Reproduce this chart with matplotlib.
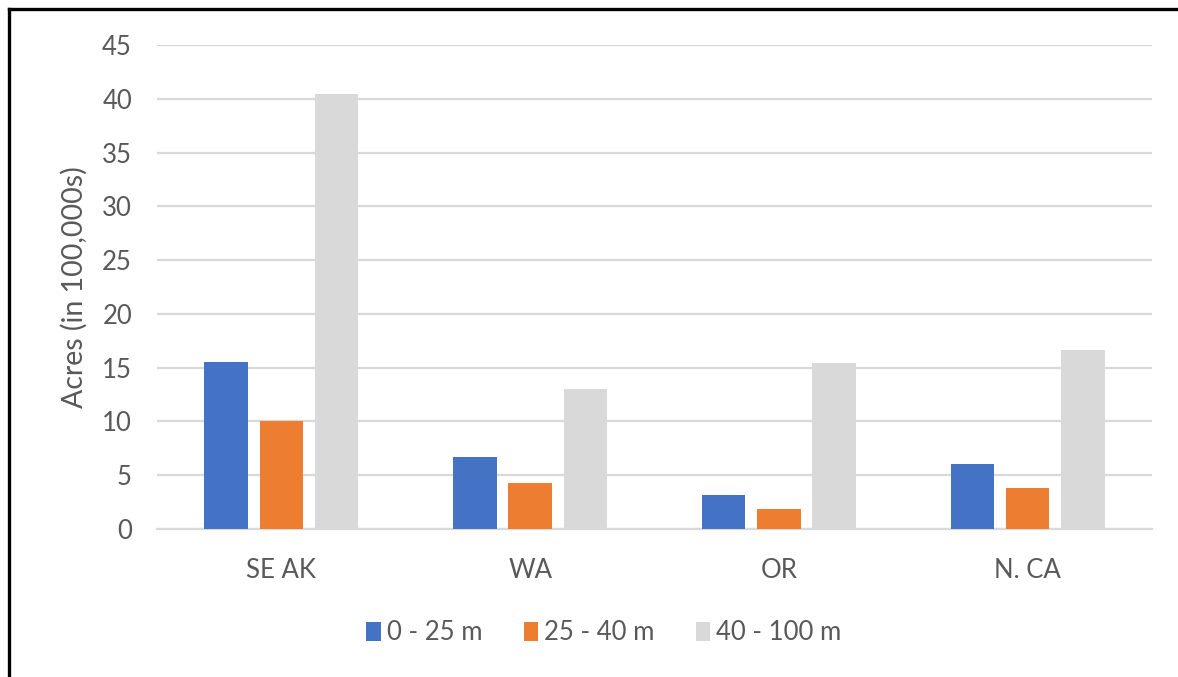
import matplotlib.pyplot as plt
import numpy as np
from matplotlib.lines import Line2D

plt.rcParams['font.family'] = ['Lato', 'DejaVu Sans']

regions = ["SE AK", "WA", "OR", "N. CA"]
depth_0_25 = [15.5, 6.7, 3.2, 6.0]
depth_25_40 = [10.0, 4.3, 1.9, 3.8]
depth_40_100 = [40.4, 13.0, 15.4, 16.6]
series_names = ["0 - 25 m", "25 - 40 m", "40 - 100 m"]
colors = ["#4472C4", "#ED7D31", "#D9D9D9"]
yticks = [0, 5, 10, 15, 20, 25, 30, 35, 40, 45]

text_col = "#595959"
fs = 18.5

fig = plt.figure(figsize=(11.78, 6.77), dpi=100)
ax = fig.add_axes([157/1178, 1 - 529/677, (1152 - 157)/1178, (529 - 45)/677])

x = np.arange(len(regions))
w = 0.175
step = 0.222
for k, vals in enumerate([depth_0_25, depth_25_40, depth_40_100]):
    ax.bar(x + (k - 1)*step, vals, width=w, color=colors[k], label=series_names[k],
           zorder=3, linewidth=0)

ax.set_xlim(-0.5, len(regions) - 0.5)
ax.set_ylim(0, 45)
ax.set_yticks(yticks)
ax.set_xticks(x)
ax.set_xticklabels(regions)
ax.yaxis.grid(True, color="#D9D9D9", linewidth=1.6, zorder=0)
ax.set_axisbelow(True)
for s in ["top", "right", "left"]:
    ax.spines[s].set_visible(False)
ax.spines["bottom"].set_color("#D9D9D9")
ax.spines["bottom"].set_linewidth(1.6)
ax.tick_params(axis="both", length=0, labelsize=fs, colors=text_col)
ax.tick_params(axis="y", pad=18)
ax.tick_params(axis="x", pad=21)
ax.set_ylabel("Acres (in 100,000s)", fontsize=20.5, color=text_col, labelpad=10)

fig.legend(loc="center", bbox_to_anchor=(604/1178, 1 - 633/677), ncol=3, frameon=False,
           fontsize=fs, labelcolor=text_col, handlelength=0.55, handleheight=0.8,
           handletextpad=0.25, columnspacing=1.6)

# frame lines along the top and left edge
fig.add_artist(Line2D([8.5/1178, 1], [1 - 8.5/677, 1 - 8.5/677], color="black", linewidth=2.4))
fig.add_artist(Line2D([8.5/1178, 8.5/1178], [0, 1 - 8.5/677], color="black", linewidth=2.4))

fig.savefig("out.png", dpi=100)
